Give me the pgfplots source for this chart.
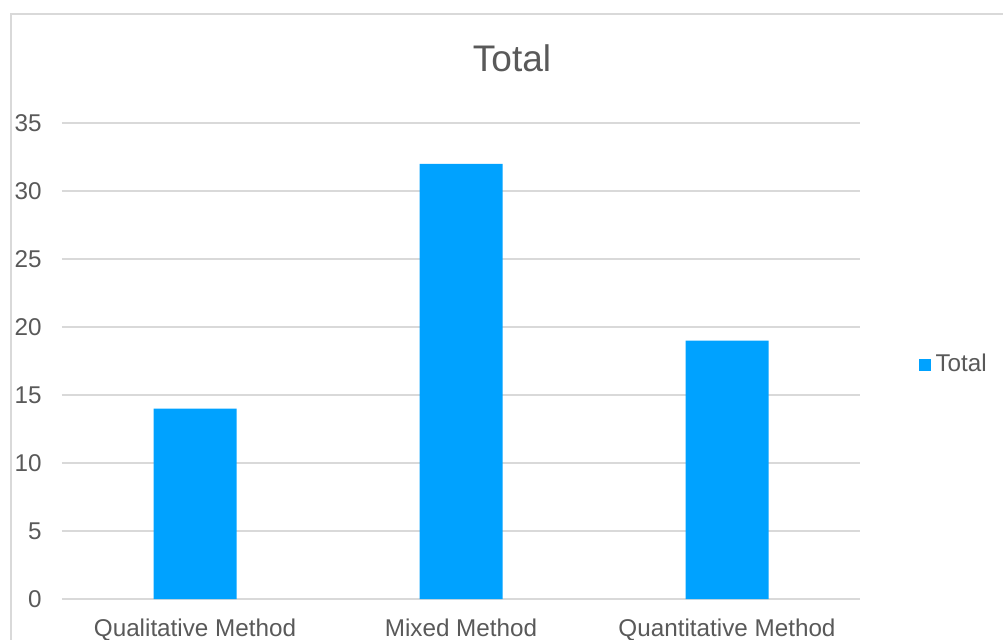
\documentclass[border=0pt]{standalone}
\usepackage{pgfplots}
\pgfplotsset{compat=1.18}
\usepackage{fontspec}
\setmainfont{Liberation Sans}
\definecolor{barblue}{HTML}{00A2FF}
\definecolor{txtgray}{HTML}{595959}
\definecolor{gridgray}{HTML}{D9D9D9}
\begin{document}
\begin{tikzpicture}
\useasboundingbox (0,0) rectangle (401.2pt,255.6pt);
\draw[gridgray, line width=0.8pt] (4.2pt,-5pt) -- (4.2pt,250pt) -- (410pt,250pt);
\node[text=txtgray, font=\fontsize{14.8}{17}\selectfont, anchor=base] at (204.8pt,227pt) {Total};
\begin{axis}[
  at={(24.8pt,16pt)}, anchor=south west,
  scale only axis, width=319.2pt, height=190.4pt,
  xmin=-0.5, xmax=2.5, ymin=0, ymax=35,
  xtick={0,1,2}, xticklabels={Qualitative Method, Mixed Method, Quantitative Method},
  ytick={0,5,...,35},
  axis line style={draw=none},
  major tick length=0pt,
  ymajorgrids, grid style={gridgray, line width=0.6pt},
  ticklabel style={text=txtgray, font=\fontsize{9.7}{11}\selectfont},
  /pgf/number format/assume math mode=true,
  yticklabel style={inner sep=0pt, anchor=east, xshift=-8pt},
  xticklabel style={inner sep=0pt, anchor=north, yshift=-7.6pt},
  legend style={at={(1.0727,0.4916)}, anchor=west, draw=none, fill=none, inner sep=0pt,
    font=\fontsize{9.7}{11}\selectfont, text=txtgray, legend cell align=left},
  legend image code/.code={\fill[barblue] (0pt,-2.4pt) rectangle (4.8pt,2.4pt);},
  clip=false,
]
\addplot[ybar, bar width=33.2pt, fill=barblue, draw=none] coordinates {(0,14) (1,32) (2,19)};
\addlegendentry{Total}
\end{axis}
\end{tikzpicture}
\end{document}
